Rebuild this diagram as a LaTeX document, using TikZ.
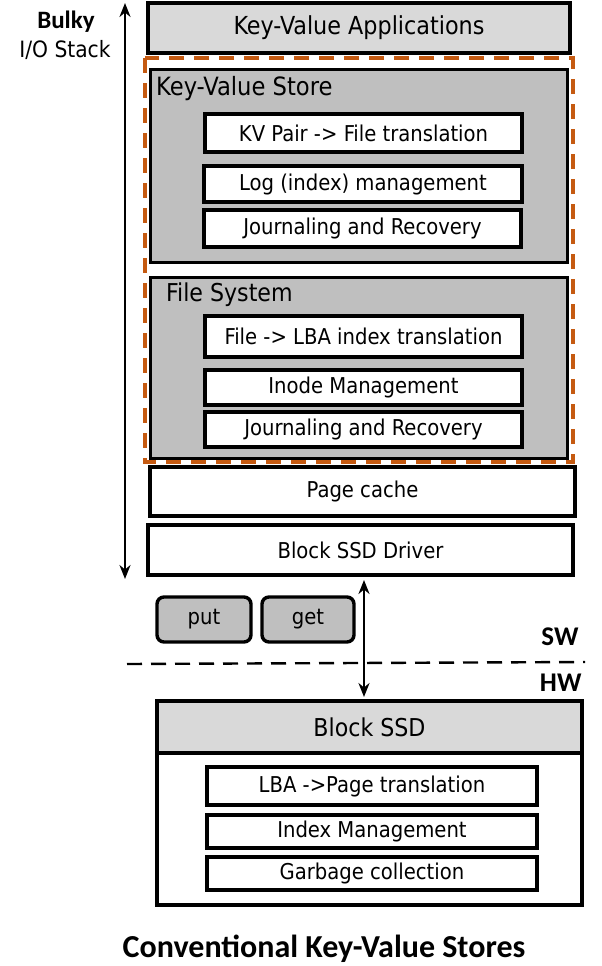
\documentclass[tikz,border=0pt]{standalone}
\usepackage{fontspec}
\setmainfont{DejaVu Sans Condensed}
\newfontfamily\headfont{Carlito}
\usetikzlibrary{arrows.meta}
\definecolor{lightgr}{HTML}{D9D9D9}
\definecolor{midgr}{HTML}{BFBFBF}
\definecolor{rust}{HTML}{C55A11}
\tikzset{
  layer/.style={draw=black, line width=3.4pt, inner sep=0pt, font=\fontsize{21.8}{24}\selectfont},
  whitebox/.style={layer, fill=white},
  lightbox/.style={layer, fill=lightgr},
  groupbox/.style={layer, fill=midgr, line width=3pt},
  opbox/.style={layer, fill=midgr, rounded corners=7pt},
  dbl/.style={line width=2.2pt, {Stealth[length=14pt,width=11pt]}-{Stealth[length=14pt,width=11pt]}},
  tag/.style={font=\headfont\bfseries\fontsize{27}{29}\selectfont}
}
\begin{document}
\begin{tikzpicture}[x=1pt,y=-1pt]
\useasboundingbox (0,0) rectangle (602,966);

% host software stack
\node[lightbox, minimum width=422, minimum height=50] (apps) at (359,28) {\fontsize{24.8}{27}\selectfont Key-Value Applications};

\node[groupbox, minimum width=417, minimum height=192] (kvs) at (358.5,166) {};
\node[anchor=west, font=\fontsize{25.2}{27}\selectfont, inner sep=0pt] (kvslabel) at (156,89) {Key-Value Store};
\node[whitebox, minimum width=317, minimum height=38] (kvpair) at (363.5,133) {KV Pair -> File translation};
\node[whitebox, minimum width=318, minimum height=36] (logmg) at (363,184) {Log (index) management};
\node[whitebox, minimum width=317, minimum height=37] (jr1) at (362.5,228.5) {Journaling and Recovery};

\node[groupbox, minimum width=417, minimum height=181] (fs) at (358.5,367.5) {};
\node[anchor=west, font=\fontsize{24.6}{27}\selectfont, inner sep=0pt] (fslabel) at (166,295) {File System};
\node[whitebox, minimum width=317, minimum height=41] (filelba) at (363.5,336.5) {File -> LBA index translation};
\node[whitebox, minimum width=317, minimum height=35] (inode) at (363.5,387.5) {Inode Management};
\node[whitebox, minimum width=317, minimum height=35] (jr2) at (363.5,429.5) {Journaling and Recovery};

% dashed frame around the key-value store and file system
\draw[rust, line width=3.4pt, dash pattern=on 15pt off 10pt] (145,58) rectangle (573,462);

\node[whitebox, minimum width=425, minimum height=49] (pcache) at (362.5,491.5) {Page cache};
\node[whitebox, minimum width=425, minimum height=50] (driver) at (360.5,550) {Block SSD Driver};

% bulky I/O stack marker
\node[tag, font=\headfont\bfseries\fontsize{25}{27}\selectfont, anchor=center] (bulky) at (66,22) {Bulky};
\node[font=\fontsize{22.5}{24}\selectfont, anchor=center] (iostack) at (65,50) {I/O Stack};
\coordinate (stacktop) at (125,3);
\coordinate (stackbot) at (125,579);
\draw[dbl] (stackbot) -- (stacktop);

% block interface commands
\node[opbox, minimum width=94, minimum height=45] (put) at (204,619.5) {put};
\node[opbox, minimum width=92, minimum height=45] (get) at (308,619.5) {get};

% software / hardware boundary
\coordinate (swl) at (127,664);
\coordinate (swr) at (585,662);
\draw[line width=2.4pt, dash pattern=on 15pt off 9pt] (swl) -- (swr);
\node[tag, anchor=east] (sw) at (582,637) {SW};
\node[tag, anchor=east] (hw) at (585,683) {HW};

% block SSD device
\node[whitebox, minimum width=425, minimum height=204] (ssd) at (369.5,803) {};
\node[lightbox, minimum width=425, minimum height=52] (ssdhead) at (369.5,727) {\fontsize{24.6}{27}\selectfont Block SSD};
\node[whitebox, minimum width=330, minimum height=38] (lbapage) at (372,786) {LBA ->Page translation};
\node[whitebox, minimum width=330, minimum height=33] (indexmg) at (372,831.5) {Index Management};
\node[whitebox, minimum width=330, minimum height=33] (gc) at (372,873.5) {Garbage collection};

\coordinate (iotop) at (364,580);
\coordinate (iobot) at (364,697);
\draw[dbl] (iotop) -- (iobot);

\node[font=\headfont\bfseries\fontsize{32}{34}\selectfont] (title) at (324,949) {Conventional Key-Value Stores};
\end{tikzpicture}
\end{document}
